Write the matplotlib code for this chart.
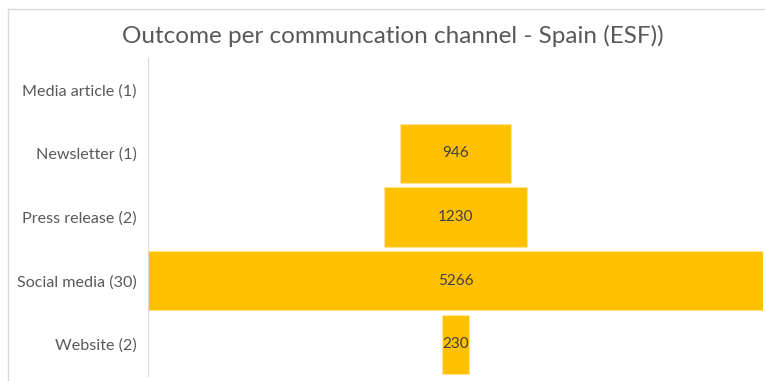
import matplotlib.pyplot as plt
from matplotlib.lines import Line2D

plt.rcParams['font.family'] = ['Lato', 'DejaVu Sans']

# outcome per channel (number of items in brackets)
channels = ['Media article (1)', 'Newsletter (1)', 'Press release (2)',
            'Social media (30)', 'Website (2)']
outcome = [0, 946, 1230, 5266, 230]

bar_color = '#FFC000'
text_grey = '#595959'

fig = plt.figure(figsize=(7.65, 3.81), dpi=100)

# chart border (only the left/top edges are inside the canvas)
fig.add_artist(Line2D([8 / 765, 8 / 765], [0, 1 - 9 / 381], transform=fig.transFigure,
                      color='#D9D9D9', lw=1))
fig.add_artist(Line2D([8 / 765, 1], [1 - 9 / 381, 1 - 9 / 381], transform=fig.transFigure,
                      color='#D9D9D9', lw=1))

ax = fig.add_axes([148 / 765, 5 / 381, 1 - 150 / 765, 318 / 381])

y = list(range(len(channels)))
lefts = [-v / 2 for v in outcome]
widths = [0.6 if v > 0 else 0 for v in outcome]
ax.barh(y, outcome, left=lefts, height=0.93, color=bar_color,
        edgecolor='#FFE699', linewidth=widths)

for yi, v in zip(y, outcome):
    if v > 0:
        ax.text(0, yi, str(v), ha='center', va='center', fontsize=11, color='#404040')

mx = max(outcome)
ax.set_xlim(-mx / 2, mx / 2)
ax.set_ylim(len(channels) - 0.5, -0.5)
ax.set_yticks(y)
ax.set_yticklabels(channels, fontsize=11.6, color=text_grey)
ax.tick_params(axis='y', length=0, pad=8)
ax.set_xticks([])
for side in ['top', 'right', 'bottom']:
    ax.spines[side].set_visible(False)
ax.spines['left'].set_color('#D9D9D9')

fig.text(393 / 765, 1 - 36 / 381, 'Outcome per communcation channel - Spain (ESF))',
         ha='center', va='center', fontsize=17.5, color=text_grey)

fig.savefig('out.png', dpi=100)
